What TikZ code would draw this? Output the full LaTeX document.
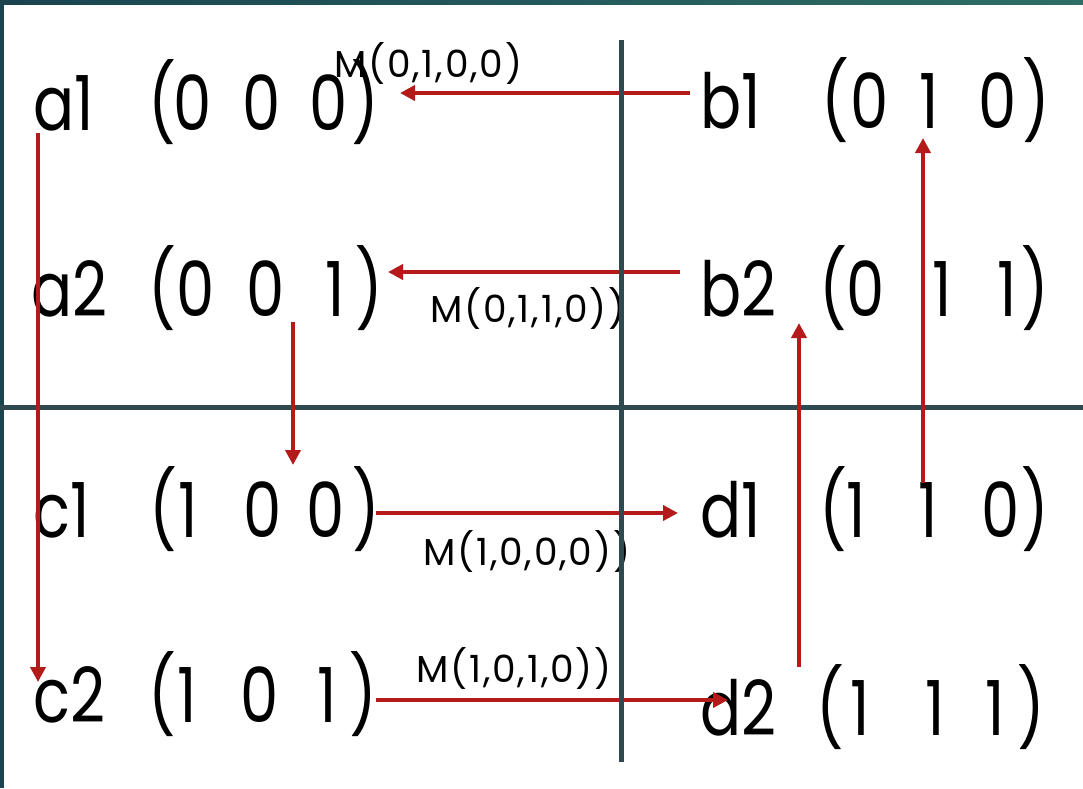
\documentclass[tikz,border=0pt]{standalone}
\usepackage{fontspec}
\usetikzlibrary{arrows.meta}
\newfontfamily\advfont[FakeStretch=0.8]{Poppins}
\newfontfamily\lblfont[LetterSpace=5]{Poppins}
\definecolor{arrred}{HTML}{B41A1A}
\definecolor{gridline}{HTML}{2E4A50}
\definecolor{frameA}{HTML}{1A4450}
\definecolor{frameB}{HTML}{2E6E66}
% glyph placed with its centre at absolute x (pt); left-aligned variant
\newcommand\gc[2]{\makebox[0pt][l]{\hspace*{#1pt}\makebox[0pt][c]{#2}}}
\newcommand\gl[2]{\makebox[0pt][l]{\hspace*{#1pt}#2}}
\tikzset{
  big/.style={anchor=base west, inner sep=0pt, font=\advfont\fontsize{76}{80}\selectfont},
  small/.style={anchor=base west, inner sep=0pt, font=\lblfont\fontsize{37.5}{40}\selectfont},
  arr/.style={draw=arrred, line width=3.8pt, -{Triangle[length=15pt,width=15pt]}},
  axis/.style={draw=gridline, line width=5pt}
}
\begin{document}
\begin{tikzpicture}[x=1pt,y=1pt]
\useasboundingbox (0,0) rectangle (1083,-788);
\fill[white] (0,0) rectangle (1083,-788);
% frame
\shade[left color=frameA, right color=frameB] (0,0) rectangle (1083,-4);
\fill[frameA] (0,0) rectangle (4,-788);
% labels (node origin at x=0, glyphs at absolute x)
\node[big] (a1) at (0,-130) {\gl{33}{a1}\gc{162}{(}\gc{192}{0}\gc{261}{0}\gc{328}{0}\gc{365}{)}};
\node[big] (a2) at (0,-316) {\gl{31}{a2}\gc{162}{(}\gc{195}{0}\gc{265}{0}\gc{335}{1}\gc{369}{)}};
\node[big] (c1) at (0,-537) {\gl{33}{c1}\gc{163}{(}\gc{188}{1}\gc{262}{0}\gc{325}{0}\gc{366}{)}};
\node[big] (c2) at (0,-722) {\gl{33}{c2}\gc{162}{(}\gc{187}{1}\gc{259}{0}\gc{327}{1}\gc{363}{)}};
\node[big] (b1) at (0,-128) {\gl{700}{b1}\gc{835}{(}\gc{869}{0}\gc{929}{1}\gc{997}{0}\gc{1036}{)}};
\node[big] (b2) at (0,-316) {\gl{700}{b2}\gc{833}{(}\gc{865}{0}\gc{942}{1}\gc{1007}{1}\gc{1035}{)}};
\node[big] (d1) at (0,-537) {\gl{700}{d1}\gc{833}{(}\gc{855}{1}\gc{928}{1}\gc{1000}{0}\gc{1035}{)}};
\node[big] (d2) at (0,-735) {\gl{700}{d2}\gc{830}{(}\gc{860}{1}\gc{935}{1}\gc{995}{1}\gc{1031}{)}};
% arrow labels
\node[small] (m1) at (334,-77) {M(0,1,0,0)};
\node[small] (m2) at (430,-322) {M(0,1,1,0))};
\node[small] (m3) at (423,-565) {M(1,0,0,0))};
\node[small] (m4) at (416,-682) {M(1,0,1,0))};
% arrow ends
\coordinate (b1w) at (690,-93);
\coordinate (a1e) at (400,-93);
\coordinate (b2w) at (680,-272);
\coordinate (a2e) at (388,-272);
\coordinate (c1e) at (376,-513);
\coordinate (d1w) at (678,-513);
\coordinate (c2e) at (376,-700);
\coordinate (d2w) at (728,-700);
\coordinate (a1s) at (38,-133);
\coordinate (c2n) at (38,-682);
\coordinate (a2s) at (293,-322);
\coordinate (c1n) at (293,-465);
\coordinate (d2n) at (799,-667);
\coordinate (b2s) at (799,-323);
\coordinate (d1n) at (923,-483);
\coordinate (b1s) at (923,-138);
% axes
\draw[axis] (0,-407) -- (1083,-407);
% arrows
\draw[arr] (b1w) -- (a1e);
\draw[arr] (b2w) -- (a2e);
\draw[arr] (c1e) -- (d1w);
\draw[arr] (c2e) -- (d2w);
\coordinate (vtop) at (621,-40);
\coordinate (vbot) at (621,-762);
\draw[axis] (vtop) -- (vbot);
\draw[arr] (a1s) -- (c2n);
\draw[arr] (a2s) -- (c1n);
\draw[arr] (d2n) -- (b2s);
\draw[arr] (d1n) -- (b1s);
\end{tikzpicture}
\end{document}
